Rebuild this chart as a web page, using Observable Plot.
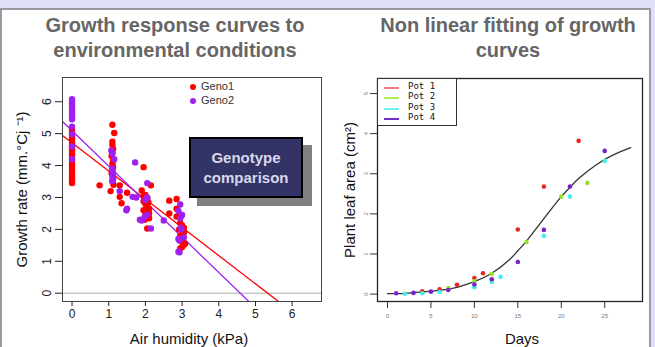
<!DOCTYPE html>
<html><head><meta charset="utf-8">
<script src="https://cdn.jsdelivr.net/npm/d3@7"></script>
<script src="https://cdn.jsdelivr.net/npm/@observablehq/plot@0.6"></script>
<style>
body{margin:0;width:655px;height:347px;overflow:hidden;position:relative;background:#dde0f8;font-family:"Liberation Sans",Arial,sans-serif;}
#panel{position:absolute;left:0;top:8px;width:651px;height:400px;background:#fff;border:2px solid #9a9aa2;box-sizing:border-box;}
.title{position:absolute;top:13px;text-align:center;font-weight:bold;font-size:20px;line-height:25px;color:#666;}
.abs{position:absolute;}
#box{position:absolute;left:189px;top:137px;width:114px;height:61px;background:#333366;border:2px solid #000;box-sizing:border-box;color:#d8d8ec;font-weight:bold;font-size:15px;line-height:20px;text-align:center;padding-top:9px;}
#shadow{position:absolute;left:197px;top:145px;width:115px;height:61px;background:#7f7f7f;}
#leg2{position:absolute;left:377px;top:78px;width:80px;height:48px;background:#fff;border:1.3px solid #333;box-sizing:border-box;font-family:"DejaVu Sans Mono",monospace;font-size:9px;color:#111;}
.row{position:absolute;left:0;height:10px;}
.row span.ln{position:absolute;left:6px;top:5px;width:15px;height:2px;}
.row span.tx{position:absolute;left:30px;top:-1px;white-space:nowrap;}
.g{position:absolute;font-size:11px;color:#333;}
.gd{position:absolute;width:6px;height:6px;border-radius:50%;}
</style></head>
<body>
<div id="panel"></div>
<div class="title" style="left:0;width:350px">Growth response curves to<br>environmental conditions</div>
<div class="title" style="left:330px;width:356px">Non linear fitting of growth<br>curves</div>
<div id="left" class="abs" style="left:0;top:60px"></div>
<div id="right" class="abs" style="left:330px;top:60px"></div>
<div id="shadow"></div>
<div id="box">Genotype<br>comparison</div>
<div class="gd" style="left:190px;top:84px;background:#ff0000"></div>
<div class="g" style="left:201px;top:80px">Geno1</div>
<div class="gd" style="left:190px;top:98px;background:#a020f0"></div>
<div class="g" style="left:201px;top:94px">Geno2</div>
<div id="leg2"></div>
<script>
// ---------- Left chart data ----------
const genotypes = ["Geno1", "Geno2"];
const genoColors = ["#ff0000", "#a020f0"];
const geno1Points = [
  [0,5.15],[0,5.05],[0,4.95],[0,4.88],[0,4.8],[0,4.72],[0,4.63],[0,4.55],[0,4.47],[0,4.38],[0,4.3],[0,4.2],[0,4.1],[0,4.0],[0,3.92],[0,3.85],[0,3.75],[0,3.65],[0,3.58],[0,3.5],[0,3.45],
  [1.1,5.28],[1.15,5.02],[1.1,4.75],[1.1,4.65],[1.12,4.52],[1.1,4.4],[1.08,4.3],[1.12,4.15],[1.1,4.05],[1.12,3.95],[1.1,3.85],[1.08,3.75],[1.12,3.62],[1.1,3.5],[1.13,3.4],[1.05,3.2],
  [0.75,3.38],[1.3,3.38],[1.3,3.02],[1.35,2.82],[1.5,3.15],[1.95,3.95],[1.9,3.22],[2.15,3.38],[1.95,3.05],[2.0,3.08],[2.05,2.98],[1.95,2.88],[2.0,2.8],[2.05,2.72],[2.1,2.65],[1.95,2.6],[2.0,2.55],[2.1,2.5],[2.05,2.42],[2.1,2.35],[1.98,2.3],[2.05,2.03],[2.02,2.78],[2.08,2.85],
  [2.65,2.9],[2.65,2.5],[2.85,2.95],[2.85,2.65],[2.85,2.4],[2.95,2.38],[2.95,2.2],[3.0,2.12],[3.05,2.05],[3.0,1.98],[3.05,1.9],[2.95,1.8],[3.0,1.62],[3.05,1.52],[3.0,1.45],[2.95,1.4],[3.08,1.55],[2.92,2.0]
];
const geno2Points = [
  [0,6.08],[0,6.02],[0,5.95],[0,5.88],[0,5.8],[0,5.72],[0,5.65],[0,5.58],[0,5.5],[0,5.45],[0,5.22],[0,4.98],[0,4.6],[0,4.2],
  [1.07,4.47],[1.1,4.38],[1.15,4.2],[1.1,3.9],[1.12,3.75],[1.1,3.65],[1.12,3.58],[1.1,3.52],
  [1.3,3.2],[1.5,2.65],[1.48,2.6],[1.65,3.02],[1.75,3.0],[1.72,4.1],[2.05,3.45],[1.85,2.3],[1.9,2.28],[1.98,2.4],[2.05,2.45],[2.15,2.03],[2.5,2.28],[2.0,2.92],[2.05,3.0],
  [2.95,2.78],[2.9,2.58],[2.95,2.35],[2.97,2.05],[3.05,1.75],[2.9,1.7],[2.93,1.65],[2.9,1.3],[2.93,1.28],[3.0,2.45],[2.98,2.0]
];
const fitIntercepts = [4.71, 5.09];
const fitSlopes = [-0.883, -1.11];
const leftXTicks = [0,1,2,3,4,5,6];
const leftYTicks = [0,1,2,3,4,5,6];

// ---------- Right chart data ----------
const pots = ["Pot 1", "Pot 2", "Pot 3", "Pot 4"];
const potColors = ["#e8281e", "#99e02c", "#44eeee", "#7722cc"];
const potLegendColors = ["#f07a7a", "#b0ee50", "#70f0f0", "#7030c8"];
const pot1Days = [4,6,8,10,11,15,18,22];
const pot1Area = [0.07,0.12,0.23,0.40,0.52,1.61,2.68,3.82];
const pot2Days = [7,10,12,16,20,23];
const pot2Area = [0.15,0.32,0.50,1.30,2.43,2.77];
const pot3Days = [2,4,6,10,12,13,18,21,25];
const pot3Area = [0.01,0.02,0.05,0.17,0.30,0.43,1.45,2.43,3.32];
const pot4Days = [1,3,5,7,10,12,15,18,21,25];
const pot4Area = [0.02,0.03,0.06,0.10,0.24,0.37,0.80,1.60,2.68,3.57];
const fitDays = [0,2,4,6,8,10,12,14,15,16,18,20,21,22,24,26,28];
const fitArea = [0.01,0.02,0.05,0.09,0.17,0.31,0.52,0.85,1.08,1.32,1.88,2.43,2.66,2.88,3.22,3.47,3.65];
const rightXTicks = [0,5,10,15,20,25];
const rightYTicks = [0,1,2,3,4,5];

// ---------- Left chart ----------
const genoData = [
  ...geno1Points.map(([x,y]) => ({x, y, g: genotypes[0]})),
  ...geno2Points.map(([x,y]) => ({x, y, g: genotypes[1]}))
];
const fits = genotypes.map((g,i) => ({g, a: fitIntercepts[i], b: fitSlopes[i]}));
const lxDom = [-0.26, 6.8], lyDom = [-0.26, 6.76];
const left = Plot.plot({
  width: 330, height: 287,
  marginLeft: 62, marginRight: 9, marginTop: 17, marginBottom: 46,
  style: {background: "transparent", fontFamily: "Liberation Sans, Arial, sans-serif", color: "#222", overflow: "visible"},
  x: {domain: lxDom},
  y: {domain: lyDom},
  color: {domain: genotypes, range: genoColors},
  marks: [
    Plot.ruleY([0], {stroke: "#aaa", strokeWidth: 1}),
    Plot.link(fits, {x1: () => lxDom[0], y1: d => d.a + d.b*lxDom[0], x2: () => lxDom[1], y2: d => d.a + d.b*lxDom[1], stroke: "g", strokeWidth: 1.3, clip: true}),
    Plot.dot(genoData, {x: "x", y: "y", fill: "g", r: 3.2}),
    Plot.frame({stroke: "#444"}),
    Plot.axisX({ticks: leftXTicks, tickFormat: d => String(d), tickSize: 5, tickPadding: 3, fontSize: 12, label: null}),
    Plot.axisY({ticks: leftYTicks, tickFormat: d => String(d), tickSize: 7, tickPadding: 5, tickRotate: -90, fontSize: 12, label: null}),
    Plot.text(["Air humidity (kPa)"], {frameAnchor: "bottom", dx: -3, dy: 38, fontSize: 15, textAnchor: "middle", lineAnchor: "middle", fill: "#111"}),
    Plot.text(["Growth rate (mm.°Cj ⁻¹)"], {frameAnchor: "left", dx: -40, rotate: -90, fontSize: 15, textAnchor: "middle", lineAnchor: "middle", fill: "#111"})
  ]
});
document.getElementById("left").appendChild(left);

// ---------- Right chart ----------
const potDays = [pot1Days, pot2Days, pot3Days, pot4Days];
const potArea = [pot1Area, pot2Area, pot3Area, pot4Area];
const potData = pots.flatMap((p,i) => potDays[i].map((d,j) => ({day: d, area: potArea[i][j], pot: p})));
const fitData = fitDays.map((d,i) => ({day: d, area: fitArea[i]}));
const right = Plot.plot({
  width: 325, height: 287,
  marginLeft: 47, marginRight: 13, marginTop: 18, marginBottom: 46,
  style: {background: "transparent", fontFamily: "Liberation Sans, Arial, sans-serif", color: "#333", overflow: "visible"},
  x: {domain: [-1.15, 29.35]},
  y: {domain: [-0.185, 5.375]},
  color: {domain: pots, range: potColors},
  marks: [
    Plot.line(fitData, {x: "day", y: "area", curve: "natural", stroke: "#333", strokeWidth: 1.3}),
    Plot.dot(potData, {x: "day", y: "area", fill: "pot", r: 2.3}),
    Plot.frame({stroke: "#222", strokeWidth: 1.3}),
    Plot.axisX({ticks: rightXTicks, tickFormat: d => String(d), tickSize: 7, tickPadding: 5, fontSize: 6, fill: "#777", label: null}),
    Plot.axisY({ticks: rightYTicks, tickFormat: d => String(d), tickSize: 7, tickPadding: 3, tickRotate: -90, fontSize: 6, fill: "#777", label: null}),
    Plot.text(["Days"], {frameAnchor: "bottom", dx: 12, dy: 38, fontSize: 15, textAnchor: "middle", lineAnchor: "middle", fill: "#111"}),
    Plot.text(["Plant leaf area (cm²)"], {frameAnchor: "left", dx: -27, rotate: -90, fontSize: 15, textAnchor: "middle", lineAnchor: "middle", fill: "#111"})
  ]
});
document.getElementById("right").appendChild(right);

// right legend
const leg2 = document.getElementById("leg2");
pots.forEach((p,i) => {
  const row = document.createElement("div");
  row.className = "row";
  row.style.top = (3 + i*10.4) + "px";
  row.innerHTML = `<span class="ln" style="background:${potLegendColors[i]}"></span><span class="tx">${p}</span>`;
  leg2.appendChild(row);
});
</script>
</body></html>
